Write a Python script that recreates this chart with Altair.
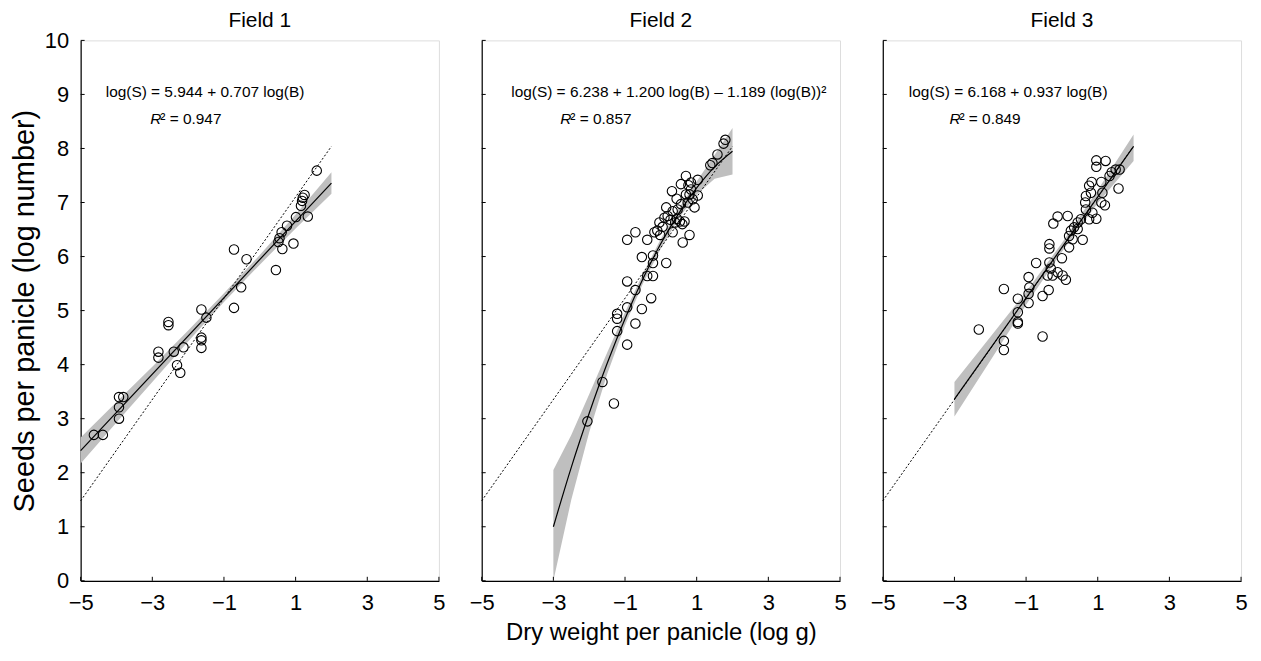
import altair as alt
import pandas as pd

FONT = "Liberation Sans"

# ---------------- data ----------------
x_ticks = [-5, -3, -1, 1, 3, 5]
y_ticks = [0, 1, 2, 3, 4, 5, 6, 7, 8, 9, 10]

# Field 1 observations
f1_x = [-4.63, -4.38, -3.93, -3.81, -3.93, -3.93, -2.83, -2.83, -2.55, -2.55,
        -2.40, -2.31, -2.22, -2.13, -1.63, -1.63, -1.63, -1.63, -1.49, -0.72,
        -0.37, -0.52, -0.72, 0.45, 0.52, 0.55, 0.63, 0.61, 0.76, 0.94,
        1.01, 1.34, 1.15, 1.18, 1.20, 1.25, 1.59]
f1_y = [2.70, 2.70, 3.40, 3.40, 3.21, 3.00, 4.24, 4.13, 4.79, 4.73,
        4.24, 3.99, 3.85, 4.32, 5.02, 4.50, 4.45, 4.31, 4.87, 6.13,
        5.95, 5.43, 5.05, 5.75, 6.27, 6.34, 6.14, 6.45, 6.57, 6.24,
        6.73, 6.74, 6.94, 7.03, 7.09, 7.14, 7.59]

# Field 2 observations
f2_x = [-2.05, -1.31, -1.63, -0.94, -1.22, -0.71, -1.22, -1.22, -0.94, -0.53,
        -0.27, -0.71, -0.94, -0.38, -0.22, 0.15, -0.22, -0.53, -0.22, -0.94,
        -0.71, -0.38, -0.18, -0.10, -0.04, 0.10, 0.27, 0.40, 0.53, 0.66,
        0.33, 0.61, 0.80, 0.19, 0.15, 0.33, 0.47, 0.56, 0.44, 0.31,
        0.56, 0.70, 0.77, 0.84, 0.94, 0.80, 0.89, 1.03, 1.03, 0.75,
        0.84, 0.70, 1.38, 1.44, 1.58, 1.75, 1.80, 0.45, 0.60, 0.05,
        -0.02]
f2_y = [2.95, 3.28, 3.68, 4.37, 4.62, 4.76, 4.85, 4.94, 5.06, 5.03,
        5.23, 5.38, 5.54, 5.64, 5.64, 5.88, 5.88, 5.99, 6.02, 6.31,
        6.45, 6.31, 6.45, 6.48, 6.63, 6.72, 6.68, 6.63, 6.65, 6.65,
        6.45, 6.26, 6.40, 6.75, 6.91, 6.84, 6.87, 6.97, 7.07, 7.21,
        7.34, 7.49, 7.32, 7.37, 6.91, 7.15, 7.06, 7.13, 7.42, 7.00,
        7.24, 7.15, 7.69, 7.73, 7.89, 8.09, 8.16, 6.70, 6.60, 6.55,
        6.40]

# Field 3 observations
f3_x = [0.96, 1.22, 0.96, 1.39, 1.50, 1.61, 1.33, 1.58, 1.10, 0.83,
        0.76, 1.13, 0.81, 0.67, 0.65, 1.10, 1.20, 0.67, 0.85, 0.96,
        0.76, 0.53, 0.44, 0.34, 0.25, 0.44, 0.16, -0.12, -0.24, 0.20,
        0.30, 0.58, 0.20, -0.35, -0.35, 0.00, -0.72, -0.35, -0.31, -0.12,
        0.02, 0.11, -0.40, -0.26, -0.93, -0.91, -0.37, -0.93, -0.54, -1.23,
        -0.93, -1.23, -1.23, -1.23, -2.32, -1.62, -1.62, -0.54, -1.62]
f3_y = [7.78, 7.77, 7.66, 7.56, 7.61, 7.61, 7.49, 7.26, 7.38, 7.38,
        7.31, 7.18, 7.18, 7.12, 7.00, 7.00, 6.95, 6.87, 6.81, 6.70,
        6.69, 6.69, 6.63, 6.54, 6.48, 6.51, 6.75, 6.74, 6.61, 6.38,
        6.32, 6.31, 6.17, 6.23, 6.15, 5.97, 5.88, 5.89, 5.78, 5.71,
        5.65, 5.57, 5.65, 5.65, 5.62, 5.43, 5.38, 5.31, 5.27, 5.22,
        5.14, 4.97, 4.79, 4.76, 4.65, 4.44, 4.27, 4.52, 5.40]

# fitted curves
fit1_x = [-5, 2]
fit1_y = [2.41, 7.36]
fit2_x = [-3, -2.5, -2, -1.5, -1, -0.5, 0, 0.5, 1, 1.5, 2]
fit2_y = [1.00, 2.10, 3.10, 4.02, 4.85, 5.59, 6.24, 6.80, 7.27, 7.66, 7.95]
fit3_x = [-3, 2]
fit3_y = [3.36, 8.04]

# dotted reference line (Field 3 fit extended)
ref_x = [-5, 2]
ref_y = [1.48, 8.04]

# confidence bands
band1_x = [-5, -4, -3, -2, -1, 0, 1, 2]
band1_lo = [2.17, 2.93, 3.68, 4.43, 5.16, 5.85, 6.52, 7.16]
band1_hi = [2.65, 3.31, 3.96, 4.63, 5.32, 6.03, 6.78, 7.56]
band2_x = [-3, -2.5, -2, -1.5, -1, -0.5, 0, 0.5, 1, 1.5, 2]
band2_lo = [0.00, 1.50, 2.75, 3.82, 4.73, 5.50, 6.15, 6.71, 7.15, 7.44, 7.52]
band2_hi = [2.05, 2.70, 3.45, 4.22, 4.97, 5.68, 6.33, 6.89, 7.39, 7.88, 8.38]
band3_x = [-3, -2, -1, 0, 1, 2]
band3_lo = [3.04, 4.07, 5.11, 6.09, 6.99, 7.77]
band3_hi = [3.68, 4.51, 5.35, 6.25, 7.23, 8.26]

titles = ["Field 1", "Field 2", "Field 3"]
equations = ["log(S) = 5.944 + 0.707 log(B)",
             "log(S) = 6.238 + 1.200 log(B) \u2013 1.189 (log(B))\u00b2",
             "log(S) = 6.168 + 0.937 log(B)"]
r2_values = ["\u00b2 = 0.947", "\u00b2 = 0.857", "\u00b2 = 0.849"]

W, H = 360, 543
xs = alt.Scale(domain=[-5, 5], nice=False, zero=False)
ys = alt.Scale(domain=[0, 10], nice=False, zero=False)


def panel(i, px, py, fx, fy, bx, blo, bhi, eq_cx, r_left, first, middle):
    xaxis = alt.Axis(values=x_ticks, ticks=False, grid=False, domainColor="black",
                     domainWidth=1.2, labelFontSize=22, labelPadding=12, labelColor="black",
                     title="Dry weight per panicle (log g)" if middle else None,
                     titleFontSize=24, titleFontWeight="normal", titlePadding=7,
                     titleColor="black", labelFlush=False)
    yaxis = alt.Axis(values=y_ticks, ticks=False, grid=False, domainColor="black",
                     domainWidth=1.2, labelFontSize=22, labelPadding=12, labelColor="black",
                     labelOpacity=1 if first else 0,
                     title="Seeds per panicle (log number)" if first else None,
                     titleFontSize=29, titleFontWeight="normal", titlePadding=5,
                     titleColor="black")

    band_df = pd.DataFrame({"x": bx, "lo": blo, "hi": bhi})
    band = alt.Chart(band_df).mark_area(color="#bfbfbf", opacity=1).encode(
        x=alt.X("x:Q", scale=xs, axis=xaxis),
        y=alt.Y("lo:Q", scale=ys, axis=yaxis),
        y2="hi:Q",
    )

    ref_df = pd.DataFrame({"x": ref_x, "y": ref_y})
    ref = alt.Chart(ref_df).mark_line(color="black", strokeWidth=1, strokeDash=[2, 2]).encode(
        x=alt.X("x:Q", scale=xs), y=alt.Y("y:Q", scale=ys))

    fit_df = pd.DataFrame({"x": fx, "y": fy})
    fit = alt.Chart(fit_df).mark_line(color="black", strokeWidth=1.2, interpolate="monotone").encode(
        x=alt.X("x:Q", scale=xs), y=alt.Y("y:Q", scale=ys))

    pts_df = pd.DataFrame({"x": px, "y": py})
    pts = alt.Chart(pts_df).mark_point(shape="circle", filled=False, color="black",
                                       size=90, strokeWidth=1.1, opacity=1).encode(
        x=alt.X("x:Q", scale=xs), y=alt.Y("y:Q", scale=ys))

    xt = alt.Chart(pd.DataFrame({"t": x_ticks})).mark_rule(color="black", strokeWidth=1).encode(
        x=alt.X("t:Q", scale=xs), y=alt.value(H), y2=alt.value(H - 4))
    yt = alt.Chart(pd.DataFrame({"t": y_ticks})).mark_rule(color="black", strokeWidth=1).encode(
        y=alt.Y("t:Q", scale=ys), x=alt.value(0), x2=alt.value(4))

    one = pd.DataFrame({"k": [0]})
    eq = alt.Chart(one).mark_text(text=equations[i], fontSize=15.5, align="center",
                                  baseline="middle", font=FONT, color="black").encode(
        x=alt.value(eq_cx), y=alt.value(52))
    r = alt.Chart(one).mark_text(text="R", fontSize=15.5, align="left", fontStyle="italic",
                                 baseline="middle", font=FONT, color="black").encode(
        x=alt.value(r_left), y=alt.value(79))
    r2 = alt.Chart(one).mark_text(text=r2_values[i], fontSize=15.5, align="left",
                                  baseline="middle", font=FONT, color="black").encode(
        x=alt.value(r_left + 10), y=alt.value(79))

    return alt.layer(band, ref, fit, pts, xt, yt, eq, r, r2).properties(
        width=W, height=H,
        title=alt.TitleParams(titles[i], fontSize=21, fontWeight="normal", anchor="middle",
                              offset=-2, color="black", font=FONT),
    )


p1 = panel(0, f1_x, f1_y, fit1_x, fit1_y, band1_x, band1_lo, band1_hi, 125, 70, True, False)
p2 = panel(1, f2_x, f2_y, fit2_x, fit2_y, band2_x, band2_lo, band2_hi, 188, 79, False, True)
p3 = panel(2, f3_x, f3_y, fit3_x, fit3_y, band3_x, band3_lo, band3_hi, 126, 67, False, False)

chart = alt.hconcat(p1, p2, p3, spacing=43, bounds="flush").configure_view(
    stroke=None
).configure_title(fontWeight="normal").configure(font=FONT).properties(
    padding={"left": 2, "top": 0, "right": 5, "bottom": 5})

chart.save("out.html", embed_options={"renderer": "svg", "actions": False})
